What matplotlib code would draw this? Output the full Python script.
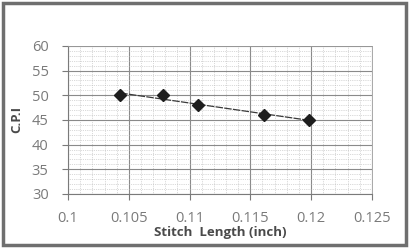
import matplotlib.pyplot as plt
import numpy as np
from matplotlib.patches import Rectangle

# stitch length vs C.P.I
stitch_length = [0.1043, 0.1078, 0.1107, 0.1161, 0.1198]
cpi = [50, 50, 48, 46, 45]

xticks = [0.1, 0.105, 0.11, 0.115, 0.12, 0.125]
xlabels = ['0.1', '0.105', '0.11', '0.115', '0.12', '0.125']
yticks = [30, 35, 40, 45, 50, 55, 60]

plt.rcParams['font.family'] = ['Open Sans', 'DejaVu Sans']

fig = plt.figure(figsize=(4.10, 2.48), dpi=100)
ax = fig.add_axes([0.166, 0.218, 0.741, 0.597])

# trendline (linear fit)
k, b = np.polyfit(stitch_length, cpi, 1)
xs = np.array([stitch_length[0], stitch_length[-1]])
ax.plot(xs, k * xs + b, color='#3a3a3a', linewidth=0.9, linestyle=(0, (6, 1)), zorder=3)
ax.plot(stitch_length, cpi, linestyle='none', marker='D', markersize=6.5,
        color='#1e1e1e', zorder=4)

ax.set(xlim=(0.1, 0.125), ylim=(30, 60))
ax.set_xticks(xticks)
ax.set_xticklabels(xlabels)
ax.set_yticks(yticks)
ax.set_xticks(np.arange(0.1, 0.1251, 0.001), minor=True)
ax.set_yticks(np.arange(30, 61, 1), minor=True)

ax.grid(which='major', color='#8a8a8a', linewidth=0.8)
ax.grid(which='minor', color='#b5b5b5', linewidth=0.5, linestyle=':')
ax.set_axisbelow(True)

for s in ['top', 'right']:
    ax.spines[s].set_color('#9a9a9a')
    ax.spines[s].set_linewidth(0.6)
for s in ['left', 'bottom']:
    ax.spines[s].set_color('#7a7a7a')
    ax.spines[s].set_linewidth(0.8)

ax.tick_params(which='major', length=4, color='#7a7a7a', labelsize=10.5,
               labelcolor='#7a7a7a', direction='out')
ax.tick_params(which='minor', length=0)
ax.tick_params(axis='x', pad=8)
ax.tick_params(axis='y', pad=10)

ax.set_xlabel('Stitch  Length (inch)', fontsize=9.5, fontweight='bold',
              color='#4a4a4a', labelpad=0)
ax.set_ylabel('C.P.I', fontsize=9.5, fontweight='bold', color='#4a4a4a', labelpad=6)

# outer frame
fig.patches.append(Rectangle((0.008, 0.012), 0.982, 0.976, transform=fig.transFigure,
                             fill=False, edgecolor='#6f6f6f', linewidth=2.5))

fig.savefig('out.png', dpi=100)
